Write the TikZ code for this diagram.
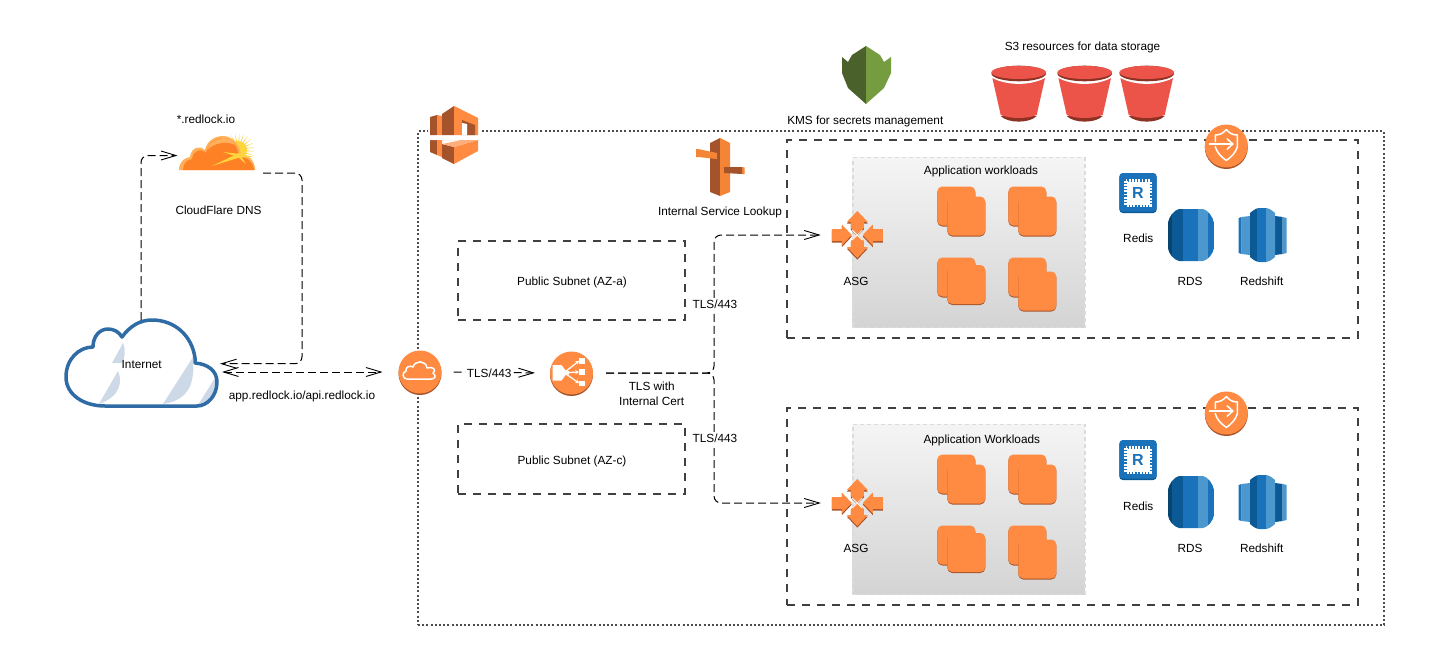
\documentclass[tikz,border=0pt]{standalone}
\usepackage{fontspec}
\setmainfont{Liberation Sans}
\usetikzlibrary{arrows.meta,calc}
\definecolor{awsor}{HTML}{FF8A41}
\definecolor{awsdk}{HTML}{A5532A}
\definecolor{awspil}{HTML}{F58536}
\definecolor{blmid}{HTML}{1A73BA}
\definecolor{bldk}{HTML}{0B5A96}
\definecolor{bllt}{HTML}{4B97CE}
\definecolor{bucket}{HTML}{EC5349}
\definecolor{bucketdk}{HTML}{8C3123}
\definecolor{inetblue}{HTML}{2F6BA4}
\definecolor{inethl}{HTML}{CDD9E7}
\definecolor{cfor}{HTML}{FF8126}
\definecolor{cflt}{HTML}{FFB05A}
\definecolor{cfsun}{HTML}{FFD53D}
\definecolor{kmsdk}{HTML}{4B612C}
\definecolor{kmslt}{HTML}{759C3E}
\tikzset{
  lab/.style={inner sep=0pt,font=\fontsize{11.8}{15}\selectfont,align=center,yshift=-1.2pt},
  anch/.style={inner sep=0pt,outer sep=0pt,draw=none},
  conn/.style={line width=1pt,black,dash pattern=on 8pt off 4pt,rounded corners=7pt},
  openarrow/.style={-{Straight Barb[length=15pt,width=9pt,line width=.9pt]}},
  twoarrow/.style={{Straight Barb[length=15pt,width=9pt,line width=.9pt]}-{Straight Barb[length=15pt,width=9pt,line width=.9pt]}},
  subnetbox/.style={draw=black!75,line width=2pt,dash pattern=on 8pt off 7pt},
  vpcbox/.style={draw=black!70,line width=2pt,dash pattern=on 2pt off 2.2pt},
  greybox/.style={draw=black!14,line width=1.6pt,dash pattern=on 4pt off 3pt,top color=black!4,bottom color=black!17},
  pics/awscircle/.style={code={
    \fill[awsdk] (0,1.5) circle (21.5);
    \fill[awsor] (0,0) circle (21.5);
  }},
  pics/shieldicon/.style={code={
    \pic {awscircle};
    \draw[white,line width=1.5pt,line join=round] (-11,-4) -- (-11,-11) .. controls (-6,-11) and (-3,-13) .. (0,-16.5) .. controls (3,-13) and (6,-11) .. (11,-11) -- (11,1) .. controls (9,7) and (5,11) .. (0,14.5) .. controls (-5,11) and (-9,7) .. (-11,1) -- (-11,0);
    \draw[white,line width=1.5pt] (-17,-2) -- (6,-2);
    \draw[white,line width=1.5pt] (0.5,-7.5) -- (6.5,-2) -- (0.5,3.5);
  }},
  pics/asgicon/.style={code={
    \foreach \col/\dy in {awsdk/1.6,awsor/0}{
      \begin{scope}[yshift=-\dy pt]
      \fill[\col] (0,-24) -- (10.5,-13) -- (6.5,-13) -- (6.5,-7) -- (0,-0.5) -- (-6.5,-7) -- (-6.5,-13) -- (-10.5,-13) -- cycle;
      \fill[\col] (0,23) -- (10.5,12) -- (6.5,12) -- (6.5,6) -- (0,-0.5) -- (-6.5,6) -- (-6.5,12) -- (-10.5,12) -- cycle;
      \fill[\col] (-25.5,-6) -- (-15.5,-6) -- (-15.5,-10.5) -- (-5.5,0) -- (-15.5,10.5) -- (-15.5,6) -- (-25.5,6) -- cycle;
      \fill[\col] (25.5,-6) -- (15.5,-6) -- (15.5,-10.5) -- (5.5,0) -- (15.5,10.5) -- (15.5,6) -- (25.5,6) -- cycle;
      \end{scope}
    }
    \draw[white,line width=.8pt] (-5,-5) -- (5,5) (5,-5) -- (-5,5);
  }},
  pics/redisicon/.style={code={
    \fill[bldk,rounded corners=3.5pt] (-18.7,-19) rectangle (18.7,20);
    \fill[blmid,rounded corners=3.5pt] (-18.7,-20) rectangle (18.7,18.5);
    \draw[white,line width=4pt,dash pattern=on 1.8pt off 1.4pt] (-12.2,-12.2) rectangle (12.2,12.2);
    \fill[white] (-11.5,-11.5) rectangle (11.5,11.5);
    \node[inner sep=0pt,text=blmid,font=\fontsize{16}{16}\bfseries\selectfont] (-r) at (0,0) {R};
  }},
  pics/rdsicon/.style={code={
    \begin{scope}
    \clip (-12,-26) -- (12,-26) .. controls (17,-25) and (22,-18) .. (23,-12) -- (23,13) .. controls (22,19) and (17,25) .. (12,26) -- (-12,26) .. controls (-17,25) and (-22,19) .. (-23,13) -- (-23,-12) .. controls (-22,-18) and (-17,-25) .. (-12,-26) -- cycle;
    \fill[bldk] (-24,-27) rectangle (-7.8,27);
    \fill[bldk!75!black] (-24,-27) rectangle (-19,27);
    \fill[blmid] (-7.8,-27) rectangle (7.2,27);
    \fill[bllt] (7.2,-27) rectangle (17.2,27);
    \fill[blmid] (17.2,-27) rectangle (24,27);
    \end{scope}
  }},
  pics/redshifticon/.style={code={
    \fill[blmid] (-24,-17) -- (-20.8,-18) -- (-20.8,19) -- (-24,18) -- cycle;
    \fill[bllt] (-20.8,-18) -- (-12.5,-19) -- (-12.5,20) -- (-20.8,19) -- cycle;
    \fill[bldk] (12.5,-19) -- (20.2,-18) -- (20.2,19) -- (12.5,20) -- cycle;
    \fill[bllt] (20.2,-18) -- (24,-17) -- (24,18) -- (20.2,19) -- cycle;
    \begin{scope}
    \clip (-12.5,-22) .. controls (-9,-25) and (-6,-27) .. (-3,-27) -- (3,-27) .. controls (6,-27) and (9,-25) .. (12.5,-22) -- (12.5,22) .. controls (9,25) and (6,27) .. (3,27) -- (-3,27) .. controls (-6,27) and (-9,25) .. (-12.5,22) -- cycle;
    \fill[bldk] (-13,-28) rectangle (-5.2,28);
    \fill[blmid] (-5.2,-28) rectangle (3.5,28);
    \fill[bllt] (3.5,-28) rectangle (13,28);
    \end{scope}
  }},
  pics/bucketicon/.style={code={
    \fill[bucketdk] (-18,42) .. controls (-11,49.5) and (11,49.5) .. (18,42) -- cycle;
    \fill[bucket] (-27,1) -- (27,1) -- (18,41) .. controls (8,45) and (-8,45) .. (-18,41) -- cycle;
    \fill[white] (-27.5,0) -- (27.5,0) -- (27.2,3.5) .. controls (12,12) and (-12,12) .. (-27.2,3.5) -- cycle;
    \fill[bucketdk] (0,-0.5) ellipse [x radius=27.3,y radius=7.8];
    \fill[bucket] (0,-1.6) ellipse [x radius=27.3,y radius=6.6];
  }},
}
\newcommand{\instack}[3]{%
  \fill[awsdk,rounded corners=5pt] (#1,#2+1) rectangle ++(38,39);
  \fill[awsor,rounded corners=5pt] (#1,#2) rectangle ++(38,39);
  \fill[awsdk,rounded corners=5pt] (#1+10,#2+#3+1) rectangle ++(38,39);
  \fill[awsor,rounded corners=5pt] (#1+10,#2+#3) rectangle ++(38,39);
}
\begin{document}
\begin{tikzpicture}[x=1pt,y=-1pt,line cap=butt]
\useasboundingbox (0,0) rectangle (1437,656);
\fill[white] (0,0) rectangle (1437,656);

% enclosures
\node[anch,vpcbox,minimum width=966pt,minimum height=494pt] (vpc) at (901,378) {};
\node[anch,subnetbox,minimum width=571pt,minimum height=198pt] (privA) at (1072.5,239) {};
\node[anch,subnetbox,minimum width=571pt,minimum height=197pt] (privC) at (1072.5,506.5) {};
\node[anch,subnetbox,minimum width=227pt,minimum height=79pt] (pubA) at (571.5,280.5) {};
\node[anch,subnetbox,minimum width=227pt,minimum height=70pt] (pubC) at (571.5,459) {};
\node[anch,greybox,minimum width=232pt,minimum height=170pt] (appA) at (968.7,242.5) {};
\node[anch,greybox,minimum width=232pt,minimum height=170pt] (appC) at (968.7,509.3) {};

% Internet cloud
\node[anch,minimum width=152pt,minimum height=86pt] (inet) at (141,363) {};
\fill[inethl] (112,363) -- (123,343) .. controls (126,350) and (125,358) .. (122,363) -- cycle;
\fill[inethl] (99,404) -- (118,371) .. controls (122,380) and (122,396) .. (99,404) -- cycle;
\fill[inethl] (163,404) -- (193,357) .. controls (195,382) and (190,400) .. (163,404) -- cycle;
\fill[inethl] (198,405) -- (215,378) .. controls (217,392) and (210,404) .. (198,405) -- cycle;
\draw[inetblue,line width=3.5pt,line join=round] (105,406) .. controls (84,406) and (66,395) .. (66,377) .. controls (66,359) and (79,347) .. (93,347) .. controls (93,336) and (100,329) .. (108,329) .. controls (114,329) and (119,332) .. (122,337) .. controls (130,326) and (140,320) .. (152,320) .. controls (175,320) and (192,336) .. (195,358) -- (195,363) .. controls (208,364) and (217,371) .. (217,382) .. controls (217,396) and (207,406) .. (197,406) -- cycle;
\node[lab] (inetlab) at (141.7,363.5) {Internet};

% CloudFlare
\node[anch,minimum width=76pt,minimum height=32pt] (cf) at (217,155.5) {};
\begin{scope}[shift={(238,150)}]
  \foreach \a in {-115,-100,...,35}{
    \fill[cfsun] ({\a-6}:6) -- (\a:17) -- ({\a+6}:6) -- cycle;
  }
  \fill[cfsun] (0,0) circle (9);
\end{scope}
\fill[cflt] (179,170) .. controls (179,162) and (184,158) .. (190,157) .. controls (191,147) and (201,145) .. (205,150) .. controls (207,140) and (216,136) .. (223,136) .. controls (233,136) and (240,145) .. (241,155) .. controls (250,155) and (255,162) .. (255,170) -- cycle;
\fill[cfor] (183,170) .. controls (183,163) and (187,160) .. (192,159) .. controls (193,150) and (201,148) .. (206,153) .. controls (208,142) and (216,138) .. (223,138) .. controls (232,138) and (238,146) .. (239,157) .. controls (248,157) and (253,162) .. (254,170) -- cycle;
\fill[cflt] (207,150) .. controls (210,141) and (218,138) .. (224,138) .. controls (229,138) and (233,141) .. (235,145) .. controls (228,141) and (215,142) .. (207,150) -- cycle;
\fill[cfsun] (212,166) -- (239,153) -- (253,157) -- (241,157) -- cycle;
\fill[cfsun] (223,152) -- (240,154) -- (246,164) -- (238,157) -- cycle;
\node[lab] (cfname) at (206,118) {*.redlock.io};
\node[lab] (cflab) at (218.5,209) {CloudFlare DNS};

% AWS logo
\node[anch,minimum width=48pt,minimum height=58pt] (awslogo) at (454,135) {};
\fill[white] (428,105) rectangle (480,165);
\fill[awsdk] (430,117) -- (437,115) -- (437,135) -- (430,135) -- cycle;
\fill[awsor] (437,115) -- (442,116) -- (442,135) -- (437,135) -- cycle;
\fill[awsdk] (442,114) -- (454,106) -- (454,135) -- (442,135) -- cycle;
\fill[awsor] (454,106) -- (478,118) -- (478,135) -- (454,135) -- cycle;
\fill[awsdk] (462,120) -- (475,125) -- (475,135) -- (467,135) -- (467,124) -- (462,123) -- cycle;
\fill[white] (462,123) -- (467,124) -- (467,135) -- (462,135) -- cycle;
\fill[awsdk] (430,140) -- (437,140) -- (437,155) -- (430,152) -- cycle;
\fill[awsor] (437,140) -- (442,140) -- (442,157) -- (437,155) -- cycle;
\fill[awsdk] (442,144) -- (454,147) -- (454,164) -- (442,158) -- cycle;
\fill[awsor] (454,147) -- (478,140) -- (478,151) -- (454,164) -- cycle;
\fill[awsor!70!white] (430,140) -- (478,140) -- (454,147) -- (442,144) -- (462,140) -- cycle;

% KMS
\node[anch,minimum width=49pt,minimum height=58pt] (kms) at (866,75) {};
\fill[kmsdk] (866,46) -- (852,55) -- (848,62) -- (842,57) -- (842,73) -- (848,88) -- (866,104) -- cycle;
\fill[kmslt] (866,46) -- (880,55) -- (884,62) -- (891,57) -- (891,73) -- (884,88) -- (866,104) -- cycle;
\node[lab] (kmslab) at (865.3,120) {KMS for secrets management};

% S3
\pic (bkA) at (1018.7,74) {bucketicon};
\pic (bkB) at (1084.7,74) {bucketicon};
\pic (bkC) at (1146.7,74) {bucketicon};
\node[lab] (s3lab) at (1082.5,46) {S3 resources for data storage};

% Service lookup
\node[anch,minimum width=48pt,minimum height=58pt] (sl) at (720,167) {};
\fill[awsdk] (720,138) -- (710,143) -- (710,192) -- (720,196) -- cycle;
\fill[awspil] (720,138) -- (730,143) -- (730,192) -- (720,196) -- cycle;
\fill[awspil] (696,149) -- (698,149) -- (717,153) -- (717,159) -- (698,157) -- (696,157) -- cycle;
\fill[awsdk] (724,167) -- (742,167) -- (742,174) -- (724,173) -- cycle;
\fill[awspil] (742,167) -- (744.5,167.5) -- (744.5,174) -- (742,174) -- cycle;
\node[lab] (sllab) at (720,211.5) {Internal Service Lookup};

% Labels of subnets
\node[lab] (pubAlab) at (572,281) {Public Subnet (AZ-a)};
\node[lab] (pubClab) at (572,460) {Public Subnet (AZ-c)};

% Internet gateway
\node[anch,circle,minimum size=43pt] (igw) at (420,372) {};
\pic at (igw) {awscircle};
\draw[white,line width=1.5pt,line join=round] (407,379) .. controls (402,379) and (402,372) .. (406,371) .. controls (405,367) and (410,365) .. (413,367) .. controls (415,360) and (426,360) .. (427,368) .. controls (433,366) and (437,370) .. (433,373) .. controls (437,376) and (435,379) .. (431,379) -- cycle;

% Load balancer
\node[anch,circle,minimum size=43pt] (lb) at (571.5,373) {};
\pic at (lb) {awscircle};
\fill[white] (552.5,365) -- (561.5,365) -- (566,371) -- (569,371) -- (569,374.5) -- (566,374.5) -- (561.5,380.5) -- (552.5,380.5) -- cycle;
\foreach \yy in {360.7,372,383.3}{
  \fill[white] (579.3,\yy-2.8) rectangle ++(5.8,5.6);
  \draw[white,line width=1.2pt,-{Stealth[length=4pt,width=4pt]}] (564,372.7) -- (579.3,\yy);
}

% ASG, instances, data stores, top
\node[anch,minimum width=51pt,minimum height=48pt] (asgA) at (857.3,235) {};
\pic at (asgA) {asgicon};
\node[lab] (asgAlab) at (856,280) {ASG};
\node[lab] (appAlab) at (981,170.7) {Application workloads};
\instack{937.3}{186.5}{10}
\instack{1008.3}{186.5}{10}
\instack{937.3}{257.5}{7.5}
\instack{1008.3}{257.5}{14}
\pic (redisA) at (1138,193) {redisicon};
\node[lab] (redisAlab) at (1138.3,236.7) {Redis};
\pic at (1191,235) {rdsicon};
\node[lab] (rdsAlab) at (1190,280) {RDS};
\pic at (1262.5,235) {redshifticon};
\node[lab] (rsAlab) at (1261.7,280) {Redshift};
\pic at (1226.3,146) {shieldicon};

% ASG, instances, data stores, bottom
\node[anch,minimum width=51pt,minimum height=48pt] (asgC) at (857.3,503) {};
\pic at (asgC) {asgicon};
\node[lab] (asgClab) at (856,547.7) {ASG};
\node[lab] (appClab) at (981.8,439.3) {Application Workloads};
\instack{937.3}{454.5}{10}
\instack{1008.3}{454.5}{10}
\instack{937.3}{525.5}{7.5}
\instack{1008.3}{525.5}{14}
\pic (redisC) at (1138,460) {redisicon};
\node[lab] (redisClab) at (1138.3,505.5) {Redis};
\pic at (1191,502) {rdsicon};
\node[lab] (rdsClab) at (1190,547.5) {RDS};
\pic at (1262.5,502) {redshifticon};
\node[lab] (rsClab) at (1261.7,547.5) {Redshift};
\pic at (1226.3,413) {shieldicon};

% Connectors
\coordinate (cfout) at (263,173);
\coordinate (inetin) at (220,363.7);
\draw[conn,openarrow,shorten >=1.5pt] (inet.north) |- (cf.west);
\draw[conn,openarrow] (cfout) -- ++(39,0) -- ++(0,190.7) -- (inetin);
\draw[conn,twoarrow,shorten <=5pt,shorten >=16pt] (inet.east |- igw.west) -- (igw.west);
\draw[conn,openarrow,shorten <=12pt,shorten >=15pt] (igw.east) -- node[pos=.44,fill=white,lab,inner xsep=2pt,inner ysep=1.5pt] (tlsIn) {TLS/443} (lb.west);
\draw[conn,openarrow,shorten <=13pt,shorten >=11pt] (lb.east) -- (714,373) -- (714,235) -- (asgA.west);
\draw[conn,openarrow,shorten <=13pt,shorten >=11pt] (lb.east) -- (714,373) -- (714,503) -- (asgC.west);
\node[lab,fill=white,inner ysep=2pt] (tlsA) at (715,303) {TLS/443};
\node[lab,fill=white,inner ysep=2pt] (tlsC) at (715,437.5) {TLS/443};
\node[lab] (tlsCert) at (651.7,392.5) {TLS with\\Internal Cert};
\node[lab] (applab) at (302,395) {app.redlock.io/api.redlock.io};
\end{tikzpicture}
\end{document}
